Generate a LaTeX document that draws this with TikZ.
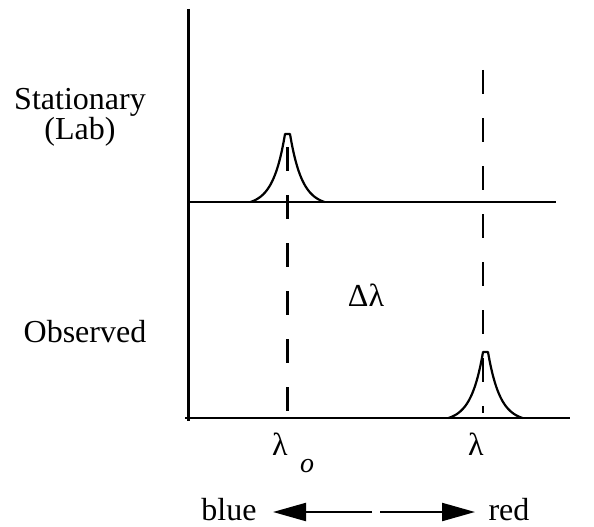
\documentclass[tikz,border=0pt]{standalone}
\usepackage{fontspec}
\setmainfont{Liberation Serif}
\usetikzlibrary{arrows.meta}
\begin{document}
\begin{tikzpicture}[x=1pt,y=-1pt,
  axis/.style={line width=2.2pt},
  dashline/.style={line width=2.2pt,dash pattern=on 24pt off 24pt},
  peak/.style={line width=2.2pt,line join=round},
  lbl/.style={inner sep=0pt,anchor=base,font=\fontsize{32}{38}\selectfont},
  bigarrow/.style={line width=2.2pt,-{Triangle[length=33pt,width=18pt]}}]
\useasboundingbox (0,0) rectangle (594,527);
% axes
\coordinate (vtop) at (188.5,9);
\coordinate (vbot) at (188.5,421);
\coordinate (ul) at (188.5,202);
\coordinate (ur) at (556,202);
\coordinate (ll) at (185,418);
\coordinate (lr) at (570,418);
\draw[axis] (vtop) -- (vbot);
\draw[axis] (ul) -- (ur);
\draw[axis] (ll) -- (lr);
% dashed lines
\coordinate (d1a) at (287.5,147);
\coordinate (d1b) at (287.5,412);
\coordinate (d2a) at (483,70);
\coordinate (d2b) at (483,413);
\draw[dashline] (d1a) -- (d1b);
\draw[dashline] (d2a) -- (d2b);
% peaks
\def\pk#1#2#3{%
  \draw[peak] plot[domain=-37:-2.5,samples=80] ({#1+\x},{#2-#3*(exp(-(-\x-2.5)/12)-exp(-34.5/12))/(1-exp(-34.5/12))})
    -- plot[domain=2.5:37,samples=80] ({#1+\x},{#2-#3*(exp(-(\x-2.5)/12)-exp(-34.5/12))/(1-exp(-34.5/12))});}
\pk{287.5}{202}{68}
\pk{485.5}{418}{66}
% labels
\node[inner sep=0pt,align=center,anchor=north,font=\fontsize{32}{29}\selectfont] (stat) at (80,88) {Stationary\\(Lab)};
\node[lbl,anchor=base] (obs) at (85,342) {Observed};
\node[lbl,anchor=base] (dl) at (366,306) {Δλ};
\node[lbl,anchor=base] (l0) at (280,455) {λ};
\node[inner sep=0pt,font=\fontsize{28}{32}\selectfont\itshape] (sub) at (307,466) {o};
\node[lbl,anchor=base] (l1) at (476,455) {λ};
\node[lbl,anchor=base] (blue) at (229,520) {blue};
\node[lbl,anchor=base] (red) at (509,520) {red};
% arrows
\coordinate (a1s) at (372,512);
\coordinate (a1e) at (273,512);
\coordinate (a2s) at (380,512);
\coordinate (a2e) at (475,512);
\draw[bigarrow] (a1s) -- (a1e);
\draw[bigarrow] (a2s) -- (a2e);
\end{tikzpicture}
\end{document}
